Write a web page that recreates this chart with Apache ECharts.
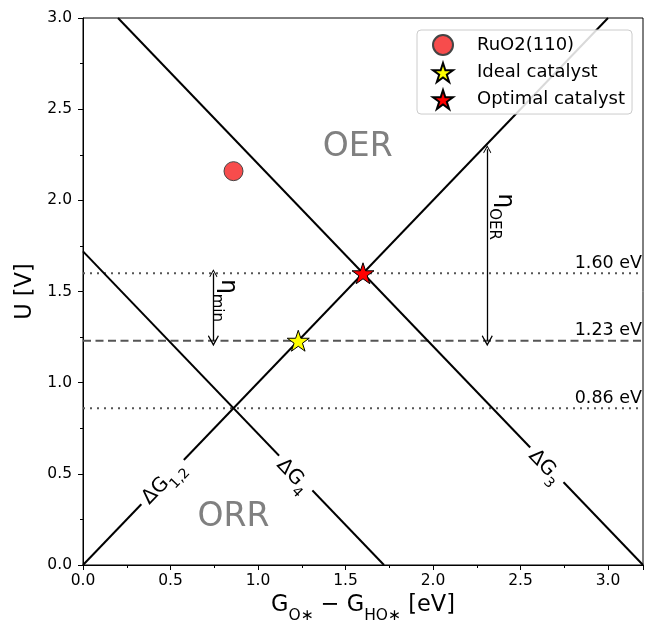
<!DOCTYPE html>
<html>
<head>
<meta charset="utf-8">
<script src="https://cdn.jsdelivr.net/npm/echarts@6/dist/echarts.min.js"></script>
<style>html,body{margin:0;padding:0;background:#fff}#c{width:645px;height:622px}</style>
</head>
<body>
<div id="c"></div>
<script>
// ---- data ----
const xTicks = [0.0, 0.5, 1.0, 1.5, 2.0, 2.5, 3.0];
const yTicks = [0.0, 0.5, 1.0, 1.5, 2.0, 2.5, 3.0];
const lineDG12 = [[0, 0], [3.0, 3.0]];
const lineDG3 = [[0.2, 3.0], [3.2, 0]];
const lineDG4 = [[0, 1.72], [1.72, 0]];
const levelValues = [1.60, 1.23, 0.86];
const levelLabels = ['1.60 eV', '1.23 eV', '0.86 eV'];
const ruo2Point = [[0.86, 2.16]];
const idealPoint = [[1.23, 1.23]];
const optimalPoint = [[1.60, 1.60]];
const etaOER = [[2.31, 1.23], [2.31, 2.28]];
const etaMin = [[0.745, 1.23], [0.745, 1.60]];
const etaOERLabelPos = [2.41, 1.91];
const etaMinLabelPos = [0.83, 1.45];
const lineLabelPos = {dg12: [0.46, 0.45], dg4: [1.20, 0.49], dg3: [2.64, 0.54]};
const regionLabels = [{name: 'OER', pos: [1.57, 2.29]}, {name: 'ORR', pos: [0.86, 0.26]}];

const FONT = 'DejaVu Sans';
const starPath = 'path://M0,-1L0.2245,-0.309L0.951,-0.309L0.363,0.118L0.588,0.809L0,0.382L-0.588,0.809L-0.363,0.118L-0.951,-0.309L-0.2245,-0.309Z';
const chevron = 'path://M0,0L5.5,7L4.6,7.7L0,1.9L-4.6,7.7L-5.5,7Z';

function solid(name, data) {
  return {type: 'line', name: name, data: data, symbol: 'none', silent: true,
    lineStyle: {color: '#000', width: 2}, z: 3, animation: false};
}
function level(v, i) {
  return {type: 'line', data: [[0, v], [3.2, v]], symbol: 'none', silent: true,
    lineStyle: {color: '#555', width: 2, type: i === 1 ? [8, 4.5] : [2, 5]}, z: 2, animation: false};
}
function textPoint(pos, label) {
  return {type: 'scatter', data: [pos], symbolSize: 0, silent: true, z: 6, animation: false,
    itemStyle: {opacity: 1},
    label: Object.assign({show: true, position: [0, 0], align: 'center', verticalAlign: 'middle', fontFamily: FONT,
      textBorderWidth: 0, opacity: 1}, label)};
}

const sub = {fontSize: 14, fontFamily: FONT, color: '#000', textBorderWidth: 0, verticalAlign: 'bottom', padding: [0, 0, -6, 0]};
const etaSub = {fontSize: 15, fontFamily: FONT, color: '#000', textBorderWidth: 0, verticalAlign: 'bottom', padding: [0, 0, -7, 0]};

const series = [
  solid('dg12', lineDG12), solid('dg3', lineDG3), solid('dg4', lineDG4),
  ...levelValues.map(level),
  {type: 'scatter', data: levelValues.map((v, i) => [3.2, v, levelLabels[i]]), symbolSize: 0, silent: true, animation: false,
    itemStyle: {opacity: 1},
    label: {show: true, position: [0, 0], align: 'right', verticalAlign: 'bottom', offset: [-1, -1], fontFamily: FONT, fontSize: 17.5, color: '#000',
      textBorderWidth: 0, opacity: 1, formatter: p => p.data[2]}},
  textPoint(lineLabelPos.dg12, {rotate: 46, formatter: 'ΔG{s|1,2}', fontSize: 20, color: '#000', backgroundColor: '#fff', padding: [0, 5, 0, 5], rich: {s: sub}}),
  textPoint(lineLabelPos.dg4, {rotate: -46, formatter: 'ΔG{s|4}', fontSize: 20, color: '#000', backgroundColor: '#fff', padding: [0, 5, 0, 5], rich: {s: sub}}),
  textPoint(lineLabelPos.dg3, {rotate: -46, formatter: 'ΔG{s|3}', fontSize: 20, color: '#000', backgroundColor: '#fff', padding: [0, 5, 0, 5], rich: {s: sub}}),
  ...regionLabels.map(r => textPoint(r.pos, {formatter: r.name, fontSize: 33, color: '#808080'})),
  textPoint(etaOERLabelPos, {rotate: -90, formatter: 'η{s|OER}', fontSize: 23, color: '#000', rich: {s: etaSub}}),
  textPoint(etaMinLabelPos, {rotate: -90, formatter: 'η{s|min}', fontSize: 23, color: '#000', rich: {s: etaSub}}),
  {type: 'lines', coordinateSystem: 'cartesian2d', silent: true, animation: false, z: 4,
    symbol: [chevron, chevron], symbolSize: [11, 8],
    lineStyle: {color: '#000', width: 1.3, opacity: 1},
    data: [{coords: etaOER}, {coords: etaMin}]},
  {type: 'scatter', name: 'RuO2(110)', data: ruo2Point, symbol: 'circle', symbolSize: 19, z: 8, animation: false,
    itemStyle: {color: 'rgba(245,25,25,0.78)', borderColor: '#444', borderWidth: 1, opacity: 1}},
  {type: 'scatter', name: 'Ideal catalyst', data: idealPoint, symbol: starPath, symbolSize: 22, symbolKeepAspect: true, z: 8, animation: false,
    itemStyle: {color: '#ffff00', borderColor: '#000', borderWidth: 1, opacity: 1}},
  {type: 'scatter', name: 'Optimal catalyst', data: optimalPoint, symbol: starPath, symbolSize: 22, symbolKeepAspect: true, z: 8, animation: false,
    itemStyle: {color: '#ff0000', borderColor: '#000', borderWidth: 1, opacity: 1}}
];

const chart = echarts.init(document.getElementById('c'), null, {renderer: 'canvas'});
chart.setOption({
  animation: false,
  backgroundColor: '#fff',
  grid: {left: 83, right: 2, top: 18, bottom: 57, show: true, borderColor: '#000', borderWidth: 1, backgroundColor: 'transparent',
    containLabel: false, outerBoundsMode: 'none'},
  legend: {
    orient: 'vertical', left: 417, top: 30, padding: [4, 7, 4, 15], itemGap: 6,
    itemWidth: 20, itemHeight: 21,
    borderColor: '#cccccc', borderWidth: 1, borderRadius: 4, backgroundColor: 'rgba(255,255,255,0.85)',
    textStyle: {fontFamily: FONT, fontSize: 18, color: '#000', padding: [0, 0, 0, 19]},
    data: ['RuO2(110)', 'Ideal catalyst', 'Optimal catalyst']
  },
  xAxis: {
    type: 'value', min: 0, max: 3.2, interval: 0.5,
    name: 'G{s|O∗} − G{s|HO∗} [eV]', nameLocation: 'middle', nameGap: 29,
    nameTextStyle: {fontFamily: FONT, fontSize: 22.5, color: '#000', rich: {s: {fontFamily: FONT, fontSize: 15.5, color: '#000', verticalAlign: 'bottom', padding: [0, 0, -7, 0]}}},
    axisLine: {show: true, onZero: false, lineStyle: {color: '#000', width: 1}},
    axisTick: {show: true, inside: false, length: 5, lineStyle: {color: '#000'}},
    minorTick: {show: true, splitNumber: 2, length: 3, lineStyle: {color: '#000'}},
    splitLine: {show: false},
    axisLabel: {fontFamily: FONT, fontSize: 15.5, color: '#000', margin: 8, showMaxLabel: false,
      formatter: v => xTicks.some(t => Math.abs(t - v) < 1e-9) ? v.toFixed(1) : ''}
  },
  yAxis: {
    type: 'value', min: 0, max: 3.0, interval: 0.5,
    name: 'U [V]', nameLocation: 'middle', nameGap: 45, nameRotate: 90,
    nameTextStyle: {fontFamily: FONT, fontSize: 22.5, color: '#000'},
    axisLine: {show: true, onZero: false, lineStyle: {color: '#000', width: 1}},
    axisTick: {show: true, inside: false, length: 5, lineStyle: {color: '#000'}},
    minorTick: {show: true, splitNumber: 2, length: 3, lineStyle: {color: '#000'}},
    splitLine: {show: false},
    axisLabel: {fontFamily: FONT, fontSize: 15.5, color: '#000', margin: 11,
      formatter: v => yTicks.some(t => Math.abs(t - v) < 1e-9) ? v.toFixed(1) : ''}
  },
  series: series
});
</script>
</body>
</html>
